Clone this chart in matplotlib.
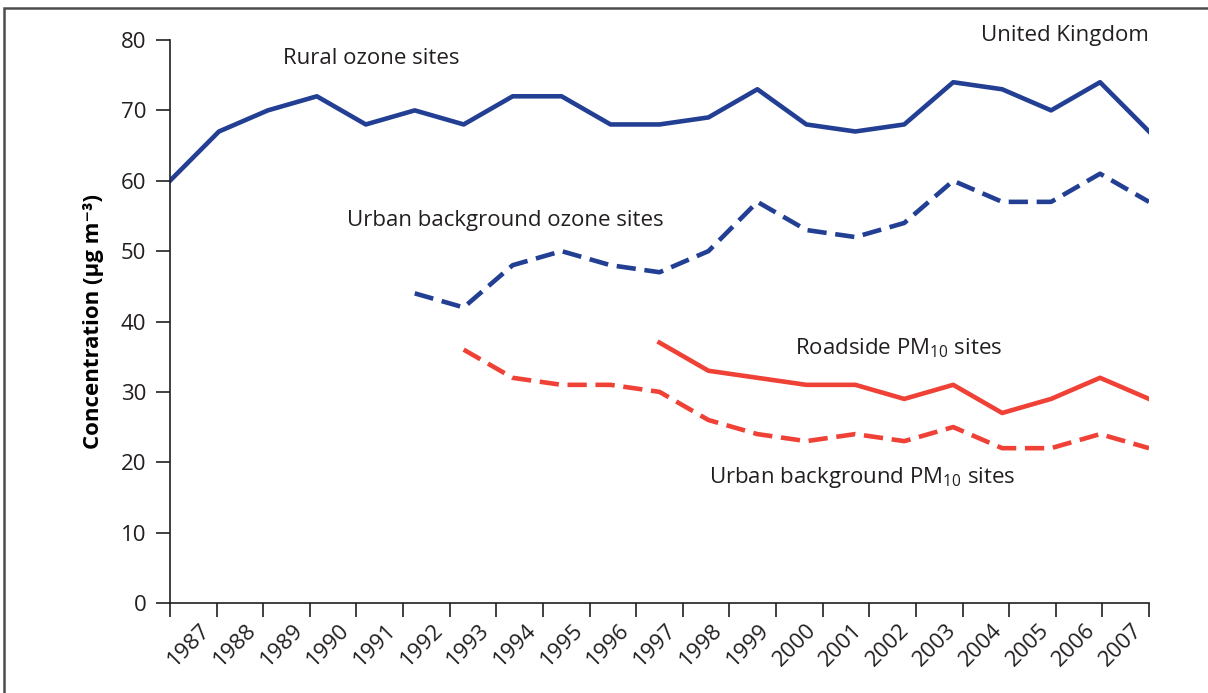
import numpy as np
import matplotlib
matplotlib.use('Agg')
import matplotlib.pyplot as plt
import matplotlib.transforms as mtransforms
from matplotlib.patches import Rectangle

plt.rcParams['font.family'] = ['Open Sans', 'DejaVu Sans']
plt.rcParams['mathtext.default'] = 'regular'

# Years shown on the x axis
years = list(range(1987, 2008))

# Concentrations (ug m-3)
rural_ozone = [60, 67, 70, 72, 68, 70, 68, 72, 72, 68, 68, 69, 73, 68, 67, 68, 74, 73, 70, 74, 67]
urban_ozone_years = list(range(1992, 2008))
urban_ozone = [44, 42, 48, 50, 48, 47, 50, 57, 53, 52, 54, 60, 57, 57, 61, 57]
urban_pm10_years = list(range(1993, 2008))
urban_pm10 = [36, 32, 31, 31, 30, 26, 24, 23, 24, 23, 25, 22, 22, 24, 22]
roadside_pm10_years = list(range(1997, 2008))
roadside_pm10 = [37, 33, 32, 31, 31, 29, 31, 27, 29, 32, 29]

blue = '#233f94'
red = '#ef4136'
ink = '#231f20'
fs = 16

fig = plt.figure(figsize=(12.08, 6.93), dpi=100)
ax = fig.add_axes([170 / 1208, 1 - 603 / 693, (1149 - 170) / 1208, (603 - 40) / 693])

def idx(ys):
    return [y - years[0] for y in ys]

ax.plot(idx(years), rural_ozone, color=blue, lw=3.3)
ax.plot(idx(urban_ozone_years), urban_ozone, color=blue, lw=3.3, dashes=(4.2, 1.9))
ax.plot(idx(roadside_pm10_years), roadside_pm10, color=red, lw=3.3)
ax.plot(idx(urban_pm10_years), urban_pm10, color=red, lw=3.3, dashes=(4.2, 1.9))

ax.set_xlim(0, len(years) - 1)
ax.set_ylim(0, 80)
ax.set_yticks(range(0, 81, 10))
ax.tick_params(axis='y', labelsize=fs, length=10, width=1.2, pad=7, colors=ink)

# x ticks: one more tick than years, labels sit between ticks
n = len(years)
edges = np.linspace(0, n - 1, n + 1)
ax.set_xticks(edges)
ax.set_xticklabels([])
ax.tick_params(axis='x', length=10, width=1.2, colors=ink)
mids = (edges[:-1] + edges[1:]) / 2
offset = mtransforms.ScaledTranslation(0.06, -0.17, fig.dpi_scale_trans)
for m, yr in zip(mids, years):
    ax.text(m, 0, str(yr), rotation=45, ha='right', va='top', rotation_mode='anchor',
            fontsize=fs, color=ink,
            transform=ax.get_xaxis_transform() + offset)

for s in ['top', 'right']:
    ax.spines[s].set_visible(False)
for s in ['left', 'bottom']:
    ax.spines[s].set_linewidth(1.2)
    ax.spines[s].set_color(ink)

ax.set_ylabel('Concentration (µg m\u207b\u00b3)', fontsize=fs, fontweight='bold', labelpad=12)

# series labels
tk = dict(fontsize=fs, color=ink, ha='center', va='center')
ax.text(4.12, 77.4, 'Rural ozone sites', **tk)
ax.text(6.85, 54.4, 'Urban background ozone sites', **tk)
ax.text(14.88, 36.2, 'Roadside PM$_{10}$ sites', **tk)
ax.text(14.15, 17.8, 'Urban background PM$_{10}$ sites', **tk)
ax.text(20.0, 80.7, 'United Kingdom', fontsize=fs, color=ink, ha='right', va='center')

# frame around the figure
fig.patches.append(Rectangle((4 / 1208, -0.1), 1.2, 1.1 - 8 / 693, transform=fig.transFigure,
                             fill=False, edgecolor='#4d4d4d', lw=1.8))

fig.savefig('out.png', dpi=100)
